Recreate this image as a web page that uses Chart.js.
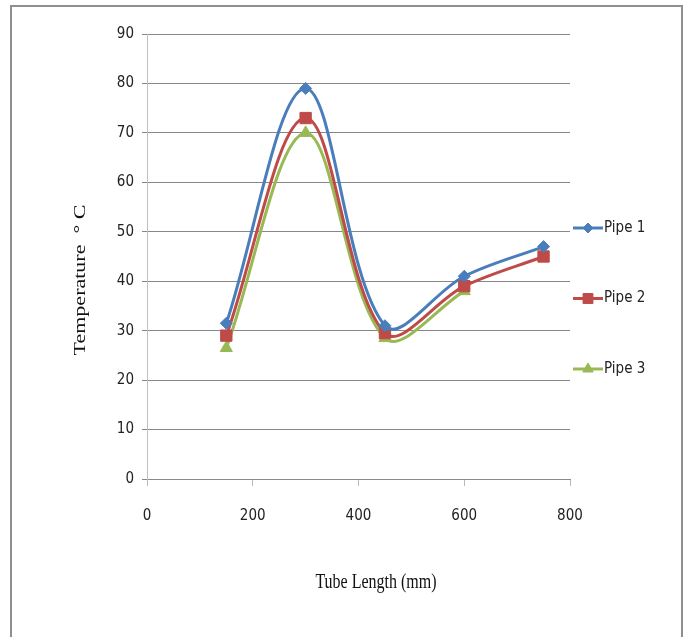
<!DOCTYPE html>
<html lang="en">
<head>
<meta charset="UTF-8">
<title>Temperature along tube length</title>
<script src="https://cdn.jsdelivr.net/npm/chart.js"></script>
<style>
  html, body { margin: 0; padding: 0; background: #fff; overflow: hidden; }
  .frame {
    position: absolute; left: 10px; top: 5px;
    width: 669px; height: 700px;
    border: 2px solid #8f8f8f;
  }
  #chart { position: absolute; left: 0; top: 0; }
</style>
</head>
<body>
<div class="frame"></div>
<canvas id="chart" width="688" height="637"></canvas>
<script>
// data
const tubeLength = [150, 300, 450, 600, 750];
const pipe1 = [31.5, 79, 31, 41, 47];
const pipe2 = [29, 73, 29.5, 39, 45];
const pipe3 = [26.5, 70, 28.5, 38, null];

const seriesNames = ['Pipe 1', 'Pipe 2', 'Pipe 3'];
const seriesValues = [pipe1, pipe2, pipe3];
const seriesColors = ['#4a7ebb', '#be4b48', '#98b954'];
const markerStyles = ['rectRot', 'rect', 'triangle'];
const markerSizes = [6, 8, 7];

const xTitle = 'Tube Length (mm)';
const yTitle = 'Temperature  \u00b0 C';

const tickFont = { family: "'DejaVu Sans Condensed', 'Liberation Sans Narrow', 'Arial Narrow', sans-serif", size: 15 };
const serif = '"Liberation Serif", "Times New Roman", serif';

const datasets = seriesNames.map((name, i) => ({
    label: name,
    data: tubeLength.map((x, j) => ({ x: x, y: seriesValues[i][j] })),
    borderColor: seriesColors[i],
    backgroundColor: seriesColors[i],
    borderWidth: 3,
    tension: 0.35,
    pointStyle: markerStyles[i],
    pointRadius: markerSizes[i],
    pointHoverRadius: markerSizes[i],
    pointBorderWidth: 1
}));

// titles + excel-like legend drawn on the canvas
const decorations = {
    id: 'decorations',
    afterDraw(chart) {
        const ctx = chart.ctx;

        ctx.save();
        ctx.fillStyle = '#111';
        ctx.textAlign = 'center';
        ctx.textBaseline = 'middle';
        ctx.font = '20px ' + serif;
        ctx.translate(376, 583);
        ctx.scale(0.8, 1);
        ctx.fillText(xTitle, 0, 0);
        ctx.restore();

        ctx.save();
        ctx.fillStyle = '#111';
        ctx.textAlign = 'center';
        ctx.textBaseline = 'middle';
        ctx.font = '22px ' + serif;
        ctx.translate(80, 280);
        ctx.rotate(-Math.PI / 2);
        ctx.scale(1, 0.8);
        ctx.fillText(yTitle, 0, 0);
        ctx.restore();

        seriesNames.forEach((name, i) => {
            const y = 228 + i * 70.5;
            ctx.save();
            ctx.strokeStyle = seriesColors[i];
            ctx.fillStyle = seriesColors[i];
            ctx.lineWidth = 3;
            ctx.beginPath();
            ctx.moveTo(573, y);
            ctx.lineTo(603, y);
            ctx.stroke();
            if (Chart.helpers && Chart.helpers.drawPoint) {
                ctx.lineWidth = 1;
                Chart.helpers.drawPoint(ctx, {
                    pointStyle: markerStyles[i],
                    radius: markerSizes[i] - 1,
                    rotation: 0,
                    borderWidth: 1
                }, 588, y);
            }
            ctx.fillStyle = '#222';
            ctx.textAlign = 'left';
            ctx.textBaseline = 'middle';
            ctx.font = tickFont.size + 'px ' + tickFont.family;
            ctx.fillText(name, 604, y);
            ctx.restore();
        });
    }
};

new Chart(document.getElementById('chart'), {
    type: 'line',
    data: { datasets: datasets },
    options: {
        responsive: false,
        animation: false,
        layout: { padding: { left: 57, top: 34, right: 118, bottom: 0 } },
        plugins: {
            legend: { display: false },
            tooltip: { enabled: false }
        },
        scales: {
            x: {
                type: 'linear',
                min: 0,
                max: 800,
                afterFit: s => { s.height = 158; },
                ticks: { stepSize: 200, font: tickFont, color: '#222', padding: 21 },
                grid: { drawOnChartArea: false, drawTicks: true, tickLength: 7, color: '#b8b8b8' },
                border: { color: '#8a8a8a' }
            },
            y: {
                min: 0,
                max: 90,
                afterFit: s => { s.width = 90; },
                ticks: { stepSize: 10, font: tickFont, color: '#222', padding: 8 },
                grid: { color: '#878787', tickLength: 5 },
                border: { color: '#c0c0c0' }
            }
        }
    },
    plugins: [decorations]
});
</script>
</body>
</html>
